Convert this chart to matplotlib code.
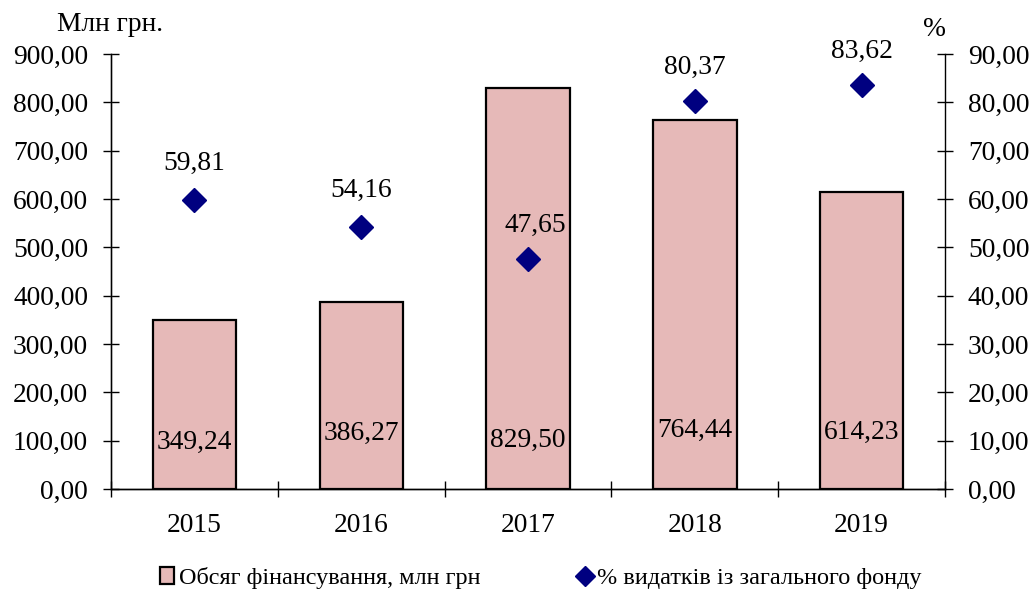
import numpy as np
import matplotlib.pyplot as plt
from matplotlib.ticker import FuncFormatter, MultipleLocator

plt.rcParams['font.family'] = ['Liberation Serif', 'DejaVu Serif']

# data
Years = ['2015', '2016', '2017', '2018', '2019']
Funding = [349.24, 386.27, 829.50, 764.44, 614.23]
Percent = [59.81, 54.16, 47.65, 80.37, 83.62]
# label heights inside the bars (left axis units) and offsets of percent labels (px)
Bar_Label_Y = [97, 116, 101, 122, 118]
Pct_Label_Off = [(0, 37), (0, 37), (7, 33), (0, 33), (0, 34)]

FS = 19.8


def comma(v, pos):
    return ('%.2f' % v).replace('.', ',')


def main():
    fig = plt.figure(figsize=(10.3, 5.95), dpi=100)
    ax = fig.add_axes([0.1078, 0.178, 0.8097, 0.731])
    ax2 = ax.twinx()

    x = np.arange(len(Years))
    bars = ax.bar(x, Funding, width=0.5, color='#E6B9B8', edgecolor='black',
                  linewidth=1.6, label='Обсяг фінансування, млн грн', zorder=2)
    pts, = ax2.plot(x, Percent, linestyle='none', marker='D', markersize=12.5,
                    color='#000080', label='% видатків із загального фонду')

    for i in range(len(Years)):
        ax.text(x[i], Bar_Label_Y[i], comma(Funding[i], 0), ha='center',
                va='center', fontsize=FS, zorder=3)
        ax2.annotate(comma(Percent[i], 0), (x[i], Percent[i]),
                     xytext=Pct_Label_Off[i], textcoords='offset pixels',
                     ha='center', va='center', fontsize=FS)

    ax.set_xlim(-0.5, len(Years) - 0.5)
    ax.set_ylim(0, 900)
    ax2.set_ylim(0, 90)
    ax.yaxis.set_major_locator(MultipleLocator(100))
    ax2.yaxis.set_major_locator(MultipleLocator(10))
    ax.yaxis.set_major_formatter(FuncFormatter(comma))
    ax2.yaxis.set_major_formatter(FuncFormatter(comma))

    ax.set_xticks(x)
    ax.set_xticklabels(Years)
    ax.set_xticks(np.arange(-0.5, len(Years)), minor=True)
    ax.tick_params(axis='x', which='major', length=0, pad=17, labelsize=FS)
    ax.tick_params(axis='x', which='minor', direction='inout', length=11, width=1)
    ax.tick_params(axis='y', direction='inout', length=11, width=1, pad=11,
                   labelsize=FS)
    ax2.tick_params(axis='y', direction='inout', length=11, width=1, pad=11,
                    labelsize=FS)

    for a in (ax, ax2):
        a.spines['top'].set_visible(False)
        for s in ('left', 'right', 'bottom'):
            a.spines[s].set_linewidth(1.0)
    ax.spines['right'].set_visible(False)
    ax.spines['left'].set_color('#555555')

    fig.text(0.107, 0.958, 'Млн грн.', ha='center', va='center', fontsize=FS)
    fig.text(0.907, 0.951, '%', ha='center', va='center', fontsize=FS)

    fig.legend([bars, pts], [bars.get_label(), pts.get_label()],
               loc='center', bbox_to_anchor=(0.525, 0.028), ncol=2,
               frameon=False, fontsize=17.5, handlelength=0.6,
               handletextpad=0.2, columnspacing=4.0, markerscale=0.8)

    fig.savefig('out.png', dpi=100)


main()
